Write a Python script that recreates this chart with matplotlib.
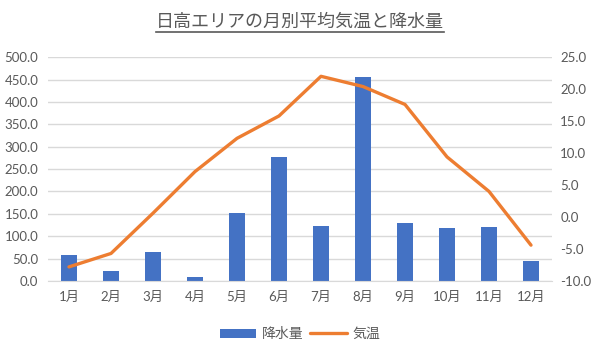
import matplotlib.pyplot as plt
from matplotlib.lines import Line2D

plt.rcParams['font.family'] = ['Lato', 'Noto Sans CJK JP', 'DejaVu Sans']

months = ['1月', '2月', '3月', '4月', '5月', '6月', '7月', '8月', '9月', '10月', '11月', '12月']
rain = [57, 22, 64, 9, 152, 277, 122, 455, 130, 118, 120, 45]
temp = [-7.8, -5.7, 0.6, 7.1, 12.3, 15.8, 22.0, 20.4, 17.6, 9.4, 4.0, -4.4]

grey = '#595959'
blue = '#4472C4'
orange = '#ED7D31'

fig = plt.figure(figsize=(6, 3.57), dpi=100)
ax = fig.add_axes([0.08, 0.213, 0.84, 0.627])
ax2 = ax.twinx()

x = range(len(months))
bars = ax.bar(x, rain, width=0.4, color=blue, zorder=2, label='降水量')
line, = ax2.plot(x, temp, color=orange, lw=2.4, label='気温', solid_capstyle='round')

ax.set_xlim(-0.5, 11.5)
ax.set_ylim(0, 500)
ax.set_yticks(range(0, 501, 50))
ax.set_yticklabels([f'{v:.1f}' for v in range(0, 501, 50)])
ax2.set_ylim(-10, 25)
ax2.set_yticks(range(-10, 26, 5))
ax2.set_yticklabels([f'{v:.1f}' for v in range(-10, 26, 5)])
ax.set_xticks(list(x))
ax.set_xticklabels(months)

ax.grid(axis='y', color='#D9D9D9', lw=1, zorder=0)
ax.set_axisbelow(True)
for a in (ax, ax2):
    for s in a.spines.values():
        s.set_visible(False)
    a.tick_params(length=0, labelsize=9.5, labelcolor=grey)
ax.spines['bottom'].set_visible(True)
ax.spines['bottom'].set_color('#D9D9D9')
ax.tick_params(axis='y', pad=7)
ax.tick_params(axis='x', pad=7)
ax2.tick_params(axis='y', pad=6)

title = fig.text(0.5, 0.94, '日高エリアの月別平均気温と降水量', ha='center', va='center',
                 fontsize=13, color=grey)
fig.canvas.draw()
bb = title.get_window_extent().transformed(fig.transFigure.inverted())
fig.add_artist(Line2D([bb.x0, bb.x1], [bb.y0 - 0.008, bb.y0 - 0.008], color=grey, lw=1.2,
                      transform=fig.transFigure))

fig.legend([bars, line], ['降水量', '気温'], loc='center', bbox_to_anchor=(0.5, 0.065), ncol=2,
           frameon=False, fontsize=10, labelcolor=grey, handlelength=2.6, columnspacing=0.5,
           handletextpad=0.4)

fig.savefig('out.png')
